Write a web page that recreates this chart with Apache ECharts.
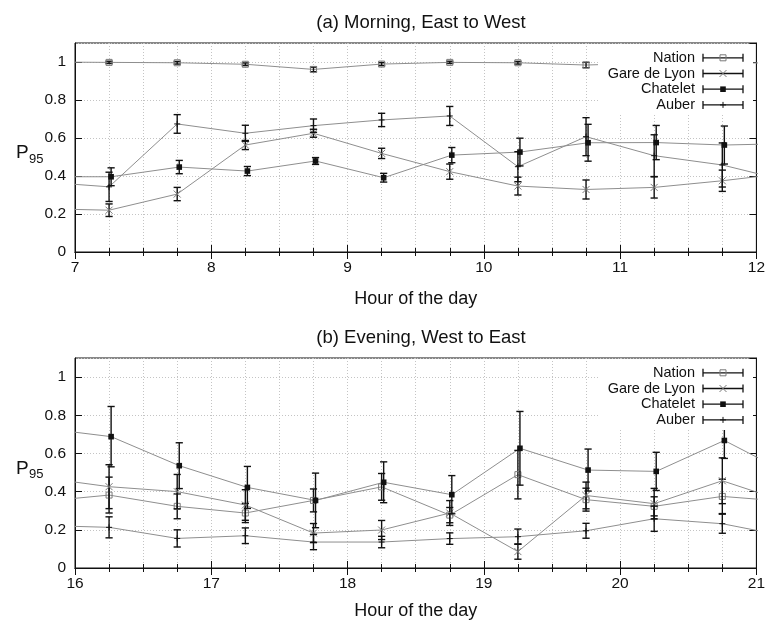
<!DOCTYPE html>
<html>
<head>
<meta charset="utf-8">
<script src="https://cdn.jsdelivr.net/npm/echarts@6/dist/echarts.min.js"></script>
<style>
  html, body { margin: 0; padding: 0; background: #fff; }
  #chart { width: 768px; height: 625px; }
</style>
</head>
<body>
<div id="chart"></div>
<script>
// Hour of the day at which each P95 estimate was taken (the first and last
// entries lie just outside the plotted window, so the lines run to the edges).
const hoursMorning = [6.75, 7.25, 7.75, 8.25, 8.75, 9.25, 9.75, 10.25, 10.75, 11.25, 11.75, 12.25];
const hoursEvening = [15.75, 16.25, 16.75, 17.25, 17.75, 18.25, 18.75, 19.25, 19.75, 20.25, 20.75, 21.25];

const stations = ['Nation', 'Gare de Lyon', 'Chatelet', 'Auber'];

// (a) Morning, East to West: P95 and half-width of the error bar
const nationMorning     = [1.000, 0.998, 0.996, 0.988, 0.961, 0.989, 0.998, 0.996, 0.984, 0.995, 0.995, 0.995];
const nationMorningErr  = [0, 0.006, 0.007, 0.007, 0.012, 0.008, 0.006, 0.007, 0.014, 0.010, 0.010, 0];
const gareMorning       = [0.228, 0.220, 0.305, 0.563, 0.625, 0.519, 0.423, 0.347, 0.329, 0.340, 0.375, 0.417];
const gareMorningErr    = [0, 0.033, 0.035, 0.024, 0.021, 0.027, 0.040, 0.047, 0.050, 0.056, 0.056, 0];
const chateletMorning   = [0.396, 0.396, 0.447, 0.426, 0.479, 0.391, 0.510, 0.526, 0.575, 0.576, 0.563, 0.571];
const chateletMorningErr= [0, 0.047, 0.035, 0.024, 0.018, 0.023, 0.040, 0.073, 0.097, 0.090, 0.100, 0];
const auberMorning      = [0.369, 0.343, 0.674, 0.625, 0.665, 0.695, 0.716, 0.449, 0.607, 0.507, 0.458, 0.370];
const auberMorningErr   = [0, 0.077, 0.049, 0.042, 0.035, 0.035, 0.050, 0.079, 0.100, 0.110, 0.116, 0];

// (b) Evening, West to East
const nationEvening     = [0.348, 0.382, 0.323, 0.288, 0.354, 0.425, 0.277, 0.489, 0.358, 0.323, 0.375, 0.347];
const nationEveningErr  = [0, 0.094, 0.065, 0.050, 0.060, 0.070, 0.040, 0.127, 0.060, 0.050, 0.090, 0];
const gareEvening       = [0.474, 0.426, 0.400, 0.330, 0.183, 0.199, 0.288, 0.086, 0.380, 0.337, 0.457, 0.339];
const gareEveningErr    = [0, 0.115, 0.090, 0.080, 0.050, 0.050, 0.065, 0.040, 0.070, 0.080, 0.120, 0];
const chateletEvening   = [0.732, 0.688, 0.536, 0.422, 0.354, 0.449, 0.384, 0.627, 0.513, 0.506, 0.668, 0.484];
const chateletEveningErr= [0, 0.158, 0.120, 0.110, 0.143, 0.107, 0.100, 0.193, 0.110, 0.100, 0.094, 0];
const auberEvening      = [0.223, 0.213, 0.155, 0.169, 0.136, 0.136, 0.154, 0.164, 0.195, 0.258, 0.232, 0.162];
const auberEveningErr   = [0, 0.055, 0.045, 0.041, 0.040, 0.030, 0.030, 0.040, 0.039, 0.066, 0.050, 0];

// Chatelet samples were taken a moment after the other stations
const chateletHourShift = 0.015;

const yTicks = [0, 0.2, 0.4, 0.6, 0.8, 1];

const FONT = '"Liberation Sans", Arial, Helvetica, sans-serif';
const LINE_GREY = '#8e8e8e';
const MARK_GREY = '#7a7a7a';
const INK = '#111';

const panels = [
  {
    title: '(a) Morning, East to West',
    hours: hoursMorning, xMin: 7, xMax: 12,
    top: 43, height: 209, nameGap: 38,
    values: [nationMorning, gareMorning, chateletMorning, auberMorning],
    errors: [nationMorningErr, gareMorningErr, chateletMorningErr, auberMorningErr]
  },
  {
    title: '(b) Evening, West to East',
    hours: hoursEvening, xMin: 16, xMax: 21,
    top: 358, height: 210, nameGap: 34,
    values: [nationEvening, gareEvening, chateletEvening, auberEvening],
    errors: [nationEveningErr, gareEveningErr, chateletEveningErr, auberEveningErr]
  }
];

// Point marker for each station, centred on (cx, cy)
function marker(kind, cx, cy) {
  switch (kind) {
    case 0: // open square
      return [{ type: 'rect', shape: { x: cx - 3, y: cy - 3, width: 6, height: 6 },
                style: { fill: null, stroke: MARK_GREY, lineWidth: 1 } }];
    case 1: // cross
      return [{ type: 'line', shape: { x1: cx - 3.5, y1: cy - 3.5, x2: cx + 3.5, y2: cy + 3.5 },
                style: { stroke: MARK_GREY, lineWidth: 1 } },
              { type: 'line', shape: { x1: cx - 3.5, y1: cy + 3.5, x2: cx + 3.5, y2: cy - 3.5 },
                style: { stroke: MARK_GREY, lineWidth: 1 } }];
    case 2: // filled square
      return [{ type: 'rect', shape: { x: cx - 2.8, y: cy - 2.8, width: 5.6, height: 5.6 },
                style: { fill: INK } }];
    default: // plus
      return [{ type: 'line', shape: { x1: cx - 3, y1: cy, x2: cx + 3, y2: cy },
                style: { stroke: INK, lineWidth: 1 } },
              { type: 'line', shape: { x1: cx, y1: cy - 3, x2: cx, y2: cy + 3 },
                style: { stroke: INK, lineWidth: 1 } }];
  }
}

function errorBarRenderer(kind) {
  return function (params, api) {
    const x = api.value(0), y = api.value(1), e = api.value(2);
    const c = api.coord([x, y]);
    const t = api.coord([x, y + e]);
    const b = api.coord([x, y - e]);
    const cap = 3.6;
    const st = { stroke: INK, lineWidth: 1.4 };
    const children = [
      { type: 'line', shape: { x1: c[0], y1: t[1], x2: c[0], y2: b[1] }, style: st },
      { type: 'line', shape: { x1: c[0] - cap, y1: t[1], x2: c[0] + cap, y2: t[1] }, style: st },
      { type: 'line', shape: { x1: c[0] - cap, y1: b[1], x2: c[0] + cap, y2: b[1] }, style: st }
    ].concat(marker(kind, c[0], c[1]));
    return { type: 'group', children: children };
  };
}

const grids = [], xAxes = [], yAxes = [], series = [], titles = [], graphics = [];
const dotted = { color: '#c4c4c4', width: 1, type: [1, 2] };

function addGraphic(el) {
  el.z = 100;
  graphics.push(el);
}

panels.forEach(function (p, pi) {
  grids.push({ left: 75, right: 8, top: p.top, height: p.height,
               show: true, borderColor: INK, borderWidth: 1, backgroundColor: 'transparent' });

  const baseX = {
    type: 'value', gridIndex: pi, min: p.xMin, max: p.xMax, interval: 1,
    axisLine: { show: true, lineStyle: { color: INK, width: 1 } },
    axisTick: { show: true, inside: true, length: 7, lineStyle: { color: INK } },
    minorTick: { show: true, splitNumber: 4, length: 4, lineStyle: { color: INK } }
  };
  xAxes.push(Object.assign({}, baseX, {
    position: 'bottom',
    axisLabel: { show: true, margin: 8, color: INK, fontSize: 15.5, fontFamily: FONT },
    splitLine: { show: true, lineStyle: dotted },
    minorSplitLine: { show: true, lineStyle: dotted },
    name: 'Hour of the day', nameLocation: 'middle', nameGap: p.nameGap,
    nameTextStyle: { fontSize: 18, color: INK, fontFamily: FONT }
  }));
  xAxes.push(Object.assign({}, baseX, {
    position: 'top', axisLabel: { show: false },
    splitLine: { show: false }, minorSplitLine: { show: false }
  }));

  const baseY = {
    type: 'value', gridIndex: pi, min: 0, max: 1.1, interval: 0.2,
    axisLine: { show: true, lineStyle: { color: INK, width: 1 } },
    axisTick: { show: true, inside: true, length: 7, lineStyle: { color: INK } }
  };
  yAxes.push(Object.assign({}, baseY, {
    position: 'left',
    axisLabel: {
      show: true, margin: 9, color: INK, fontSize: 15.5, fontFamily: FONT,
      showMaxLabel: false,
      formatter: function (v) {
        const r = parseFloat(v.toFixed(1));
        return yTicks.indexOf(r) >= 0 ? String(r) : '';
      }
    },
    splitLine: { show: true, lineStyle: dotted }
  }));
  yAxes.push(Object.assign({}, baseY, {
    position: 'right', axisLabel: { show: false }, splitLine: { show: false }
  }));

  const xi = pi * 2, yi = pi * 2;

  stations.forEach(function (name, si) {
    const shift = si === 2 ? chateletHourShift : 0;
    const pts = p.hours.map(function (h, i) { return [h + shift, p.values[si][i]]; });
    series.push({
      type: 'line', name: name + ' line', xAxisIndex: xi, yAxisIndex: yi,
      data: pts, showSymbol: false, symbol: 'none', silent: true, z: 2,
      lineStyle: { color: LINE_GREY, width: 1 }, animation: false
    });
  });
  stations.forEach(function (name, si) {
    const shift = si === 2 ? chateletHourShift : 0;
    const pts = [];
    p.hours.forEach(function (h, i) {
      if (h >= p.xMin && h <= p.xMax) pts.push([h + shift, p.values[si][i], p.errors[si][i]]);
    });
    series.push({
      type: 'custom', name: name, xAxisIndex: xi, yAxisIndex: yi,
      data: pts, renderItem: errorBarRenderer(si), silent: true, z: 3,
      animation: false
    });
  });

  titles.push({
    text: p.title, left: 416, top: p.top - 35, textAlign: 'center',
    textStyle: { fontSize: 18.5, fontWeight: 'normal', color: INK, fontFamily: FONT }
  });

  // Y axis label: P with subscript 95
  const midY = p.top + p.height / 2;
  addGraphic({ type: 'text', x: 16, y: midY - 4,
               style: { text: 'P', fontSize: 19, fill: INK, fontFamily: FONT } });
  addGraphic({ type: 'text', x: 29, y: midY + 5,
               style: { text: '95', fontSize: 13, fill: INK, fontFamily: FONT } });

  // Key box (opaque, drawn over the curves)
  addGraphic({
    type: 'rect', shape: { x: 598, y: p.top + 1, width: 155, height: 71 },
    style: { fill: '#fff' }
  });
  stations.forEach(function (name, si) {
    const ry = p.top + 14.8 + si * 15.7;
    addGraphic({
      type: 'text', x: 695, y: ry,
      style: { text: name, fontSize: 14.5, fill: INK, fontFamily: FONT,
               align: 'right', verticalAlign: 'middle' }
    });
    const ls = { stroke: INK, lineWidth: 1.3 };
    addGraphic({ type: 'line', shape: { x1: 703, y1: ry, x2: 743, y2: ry }, style: ls });
    addGraphic({ type: 'line', shape: { x1: 703, y1: ry - 4, x2: 703, y2: ry + 4 }, style: ls });
    addGraphic({ type: 'line', shape: { x1: 743, y1: ry - 4, x2: 743, y2: ry + 4 }, style: ls });
    marker(si, 723, ry).forEach(function (m) { addGraphic(m); });
  });
});

const chart = echarts.init(document.getElementById('chart'), null, { renderer: 'canvas' });
chart.setOption({
  animation: false,
  backgroundColor: '#fff',
  textStyle: { fontFamily: FONT },
  title: titles,
  grid: grids,
  xAxis: xAxes,
  yAxis: yAxes,
  series: series,
  graphic: graphics
});
</script>
</body>
</html>
